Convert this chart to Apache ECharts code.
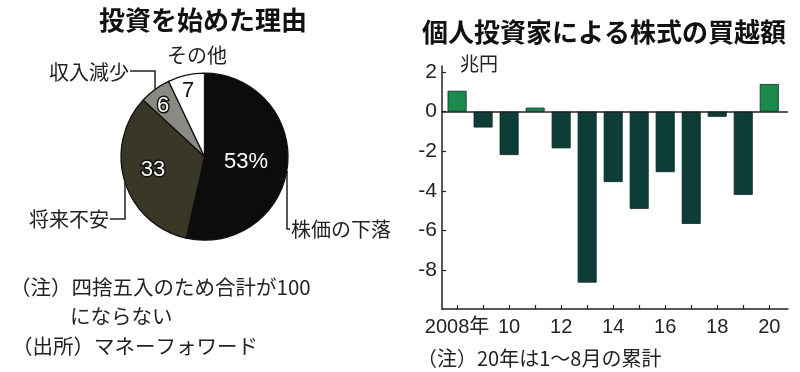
<!DOCTYPE html>
<html>
<head>
<meta charset="utf-8">
<script src="https://cdn.jsdelivr.net/npm/echarts@6/dist/echarts.min.js"></script>
<style>
html,body{margin:0;padding:0;background:#fff;}
#c{width:800px;height:372px;}
</style>
</head>
<body>
<div id="c"></div>
<script>
// ---- data ----
const pieNames = ['株価の下落', '将来不安', '収入減少', 'その他'];
const pieValues = [53, 33, 6, 7];
const pieValueLabels = ['53%', '33', '6', '7'];
const years = [2008, 2009, 2010, 2011, 2012, 2013, 2014, 2015, 2016, 2017, 2018, 2019, 2020];
const netBuy = [1.05, -0.8, -2.19, 0.2, -1.85, -8.62, -3.55, -4.9, -3.05, -5.66, -0.26, -4.2, 1.39];
const yTickValues = [-8, -6, -4, -2, 0, 2];
const xLabelYears = [2008, 2010, 2012, 2014, 2016, 2018, 2020];

// ---- styles / layout ----
const CJK = "'Noto Sans CJK JP', 'Noto Sans', sans-serif";
const NUM = "'Liberation Sans Narrow', 'Liberation Sans', 'Noto Sans CJK JP', sans-serif";
const sliceColors = ['#0c0c0c', '#393827', '#8a8a83', '#ffffff'];
const innerLabelPos = [[246, 162], [153, 170], [163, 106], [188, 91]];
const outerLabelLayout = [
  { x: 291, y: 229, align: 'left', line: [[287, 171], [287, 229], [290, 229]] },
  { x: 109, y: 219, align: 'right', line: [[125, 182], [125, 219], [110, 219]] },
  { x: 129, y: 72, align: 'right', line: [[155, 90], [155, 71], [130, 71]] },
  { x: 197, y: 55, align: 'center', line: null }
];

const chart = echarts.init(document.getElementById('c'), null, { renderer: 'canvas' });

const pieData = pieNames.map((n, i) => ({
  name: n,
  value: pieValues[i],
  itemStyle: { color: sliceColors[i] },
  label: i === 3
    ? { color: '#111', textBorderWidth: 0 }
    : { color: '#fff', textBorderColor: '#111', textBorderWidth: 3 }
}));

const pieNameData = pieNames.map((n, i) => ({
  name: n,
  value: pieValues[i],
  labelLine: { show: outerLabelLayout[i].line !== null }
}));

const noteFont = "20.5px " + CJK;

const option = {
  animation: false,
  backgroundColor: '#fff',
  graphic: [
    { type: 'text', x: 203, y: 20, style: { text: '投資を始めた理由', font: "bold 26px " + CJK, fill: '#111', align: 'center', verticalAlign: 'middle' } },
    { type: 'text', x: 604, y: 32, style: { text: '個人投資家による株式の買越額', font: "bold 26px " + CJK, fill: '#111', align: 'center', verticalAlign: 'middle' } },
    { type: 'text', x: 460, y: 64, style: { text: '兆円', font: "19px " + CJK, fill: '#222', align: 'left', verticalAlign: 'middle' } },
    { type: 'text', x: 10, y: 287, style: { text: '（注）四捨五入のため合計が100', font: noteFont, fill: '#222', align: 'left', verticalAlign: 'middle' } },
    { type: 'text', x: 70, y: 316, style: { text: 'にならない', font: noteFont, fill: '#222', align: 'left', verticalAlign: 'middle' } },
    { type: 'text', x: 12, y: 346, style: { text: '（出所）マネーフォワード', font: noteFont, fill: '#222', align: 'left', verticalAlign: 'middle' } },
    { type: 'text', x: 417, y: 358, style: { text: '（注）20年は1～8月の累計', font: "20px " + CJK, fill: '#222', align: 'left', verticalAlign: 'middle' } }
  ],
  grid: { left: 442, right: 12, top: 66, bottom: 63 },
  xAxis: {
    type: 'value',
    min: 2007.42,
    max: 2020.72,
    splitLine: { show: false },
    axisLine: { show: true, onZero: false, lineStyle: { color: '#222', width: 1.5 } },
    axisTick: { show: true, inside: true, length: 4, customValues: years, lineStyle: { color: '#222', width: 1.2 } },
    axisLabel: {
      customValues: xLabelYears,
      margin: 8,
      fontFamily: NUM, fontSize: 20, color: '#222',
      formatter: v => v === 2008 ? '2008年' : String(v % 100).padStart(2, '0')
    }
  },
  yAxis: {
    type: 'value',
    min: -9.95,
    max: 2.3,
    splitLine: { show: false },
    axisLine: { show: true, onZero: false, lineStyle: { color: '#222', width: 1.5 } },
    axisTick: { show: true, inside: true, length: 4, customValues: yTickValues, lineStyle: { color: '#222', width: 1.2 } },
    axisLabel: { customValues: yTickValues, margin: 5, fontFamily: NUM, fontSize: 21, color: '#222' }
  },
  series: [
    {
      type: 'bar',
      barWidth: 19,
      data: years.map((y, i) => [y, netBuy[i]]),
      itemStyle: {
        color: p => p.value[1] >= 0 ? '#1d8a4d' : '#0e3c37',
        borderColor: '#0b2b26',
        borderWidth: 0.8
      },
      markLine: {
        silent: true,
        symbol: 'none',
        label: { show: false },
        lineStyle: { color: '#222', width: 1.5, type: 'solid' },
        data: [{ yAxis: 0 }]
      }
    },
    {
      type: 'pie',
      center: [204.5, 156.7],
      radius: 83.5,
      startAngle: 90,
      clockwise: true,
      avoidLabelOverlap: false,
      itemStyle: { borderColor: '#111', borderWidth: 1.3 },
      label: {
        show: true,
        position: 'inside',
        fontFamily: NUM,
        fontSize: 22,
        formatter: p => pieValueLabels[p.dataIndex]
      },
      labelLine: { show: false },
      labelLayout: p => ({ x: innerLabelPos[p.dataIndex][0], y: innerLabelPos[p.dataIndex][1], align: 'center', verticalAlign: 'middle' }),
      data: pieData,
      silent: true
    },
    {
      type: 'pie',
      center: [204.5, 156.7],
      radius: 83.5,
      startAngle: 90,
      clockwise: true,
      avoidLabelOverlap: false,
      silent: true,
      itemStyle: { color: 'rgba(0,0,0,0)', borderWidth: 0 },
      label: {
        show: true,
        position: 'outside',
        fontFamily: CJK,
        fontSize: 20,
        color: '#222',
        formatter: p => p.name
      },
      labelLine: { show: true, length: 10, length2: 10, lineStyle: { color: '#222', width: 1.5 } },
      labelLayout: p => {
        const o = outerLabelLayout[p.dataIndex];
        const r = { x: o.x, y: o.y, align: o.align, verticalAlign: 'middle' };
        if (o.line) r.labelLinePoints = o.line;
        return r;
      },
      data: pieNameData
    }
  ]
};
chart.setOption(option);
</script>
</body>
</html>
